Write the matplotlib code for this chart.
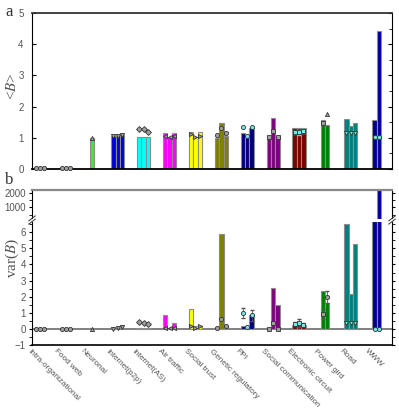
import matplotlib
matplotlib.use("Agg")
import matplotlib.pyplot as plt
import numpy as np
from matplotlib.lines import Line2D
from matplotlib.transforms import ScaledTranslation

plt.rcParams["mathtext.fontset"] = "stix"
plt.rcParams["font.family"] = ["Liberation Sans", "DejaVu Sans"]

categories = ["Intra-organizational", "Food web", "Neuronal", "Internet(p2p)",
              "Internet(AS)", "Air traffic", "Social trust", "Genetic regulatory",
              "PPI", "Social communication", "Electronic circuit", "Power gird",
              "Road", "WWW"]

# <B> bars and marker values
mean_bars = [[0, 0, 0], [0, 0, 0], [0.98], [1.07, 1.08, 1.10],
             [1.04, 1.03, 1.03], [1.15, 1.02, 1.15], [1.19, 1.01, 1.19],
             [1.0, 1.46, 1.05], [1.14, 1.07, 1.33], [1.05, 1.65, 1.07],
             [1.33, 1.31, 1.31], [1.58, 1.40], [1.59, 1.37, 1.47], [1.57, 4.41]]
mean_marks = [[0.02, 0.02, 0.02], [0.02, 0.02, 0.02], [1.0], [1.05, 1.07, 1.08],
              [1.29, 1.28, 1.20], [1.05, 1.01, 1.05], [1.11, 1.01, 1.06],
              [1.09, 1.32, 1.14], [1.34, 1.07, 1.35], [1.02, 1.21, 1.04],
              [1.18, 1.17, 1.22], [1.48, 1.77], [1.16, 1.16, 1.16], [1.03, 1.03]]
mean_err = {10: [0.05, 0.08, 0.06]}

# var(B) bars and marker values
var_bars = [[0, 0, 0], [0, 0, 0], [0], [0.02, 0.03, 0.05],
            [0.06, 0.06, 0.05], [0.88, 0.05, 0.35], [1.25, 0.15, 0.2],
            [0.1, 5.86, 0.2], [0.15, 0.1, 0.88], [0.02, 2.53, 1.5],
            [0.25, 0.3, 0.22], [2.36, 1.6], [6.54, 2.16, 5.3], [170, 2250]]
var_marks = [[0, 0, 0], [0, 0, 0], [0], [0.02, 0.05, 0.1],
             [0.41, 0.38, 0.3], [0.08, 0.05, 0.08], [0.18, 0.08, 0.15],
             [0.05, 0.6, 0.2], [1.0, 0.1, 0.85], [0.0, 0.37, 0.02],
             [0.3, 0.35, 0.25], [0.93, 1.98], [0.35, 0.35, 0.35], [0, 0]]
var_err = {8: [0.3, 0, 0.35], 10: [0.15, 0.25, 0.1], 11: [0.3, 0.35]}

colors = ["#808080", "#808080", "#33ee33", "#0000dd", "#00ffff", "#ff00ff",
          "#ffff00", "#808000", "#000080", "#800080", "#800000", "#008000",
          "#008080", "#000099"]
marker_shapes = ["o", "o", "^", "v", "D", "<", ">", "o", "o", "s", "s", "s", "v", "o"]
cyan_marks = {8, 10, 12, 13}

W = 0.17
GREY = "#555555"


def offsets(n):
    return (np.arange(n) - (n - 1) / 2) * W


def draw(ax, bars, marks, errs, top=False):
    for i, (b, m) in enumerate(zip(bars, marks)):
        xs = i + offsets(len(b))
        ax.bar(xs, b, width=W, color=colors[i], edgecolor="#8c8c8c",
               linewidth=0.8, zorder=2)
        fc = "#6fe8e8" if i in cyan_marks else "#a0a0a0"
        shapes = [marker_shapes[i]] * len(m)
        if i == 11:
            shapes = ["s", "^"] if top else ["s", "o"]
        for x, y, s in zip(xs, m, shapes):
            ax.plot(x, y, marker=s, ms=3.0, mfc=fc, mec="#333333", mew=0.6,
                    zorder=4, clip_on=False)
        if i in errs:
            ec = "#40e0e0" if (top and i == 10) else GREY
            ax.errorbar(xs, m, yerr=errs[i], fmt="none", ecolor=ec,
                        elinewidth=0.6, capsize=1.5, zorder=3)


fig = plt.figure(figsize=(3.99, 4.09), dpi=100)
L, R = 32 / 399, 392 / 399
XLIM = (-0.31, 13.59)

ax_a = fig.add_axes([L, 1 - 169 / 409, R - L, (169 - 13) / 409])
ax_a.set_ylim(0, 5)
ax_a.set_xlim(*XLIM)
draw(ax_a, mean_bars, mean_marks, mean_err, top=True)
ax_a.set_xticks([])
ax_a.set_yticks(range(6))
ax_a.set_yticks(np.arange(0, 5.01, 0.5), minor=True)
ax_a.tick_params(axis="y", which="both", direction="in", right=True,
                 labelsize=7, labelcolor=GREY, length=3, pad=6)
ax_a.tick_params(axis="y", which="minor", length=2, left=False)
for s in ["top", "bottom"]:
    ax_a.spines[s].set_linewidth(1.3)
ax_a.spines["top"].set_color("#333333")
fig.text(12 / 399, 1 - 86 / 409, "<$B$>", family="Liberation Serif", fontsize=11,
         color=GREY, rotation=90, ha="center", va="center")

# lower panel with broken axis
ax_hi = fig.add_axes([L, 1 - 220 / 409, R - L, 30 / 409])
ax_lo = fig.add_axes([L, 1 - 345 / 409, R - L, 125 / 409])
ax_hi.set_ylim(130, 2185)
ax_lo.set_ylim(-1, 6.76)
for ax in (ax_hi, ax_lo):
    ax.set_xlim(*XLIM)
    draw(ax, var_bars, var_marks, var_err)
    ax.tick_params(axis="y", which="both", direction="out", right=True,
                   labelsize=7, labelcolor=GREY, length=2.5, pad=2)
ax_hi.set_yticks([1000, 2000])
ax_hi.set_yticks([500, 1500], minor=True)
ax_hi.set_xticks([])
ax_hi.spines["bottom"].set_visible(False)
ax_hi.spines["top"].set_color("#888888")
ax_hi.spines["top"].set_linewidth(1.6)
ax_lo.spines["top"].set_visible(False)
ax_lo.set_yticks(range(-1, 7))
ax_lo.set_yticks(np.arange(-1, 6.6, 0.5), minor=True)
ax_lo.axhline(0, color="#808080", lw=1.4, zorder=1)
ax_lo.spines["bottom"].set_linewidth(1.2)

ax_lo.set_xticks(range(len(categories)))
ax_lo.set_xticklabels(categories)
ax_lo.tick_params(axis="x", length=0, labelsize=5.9, labelcolor=GREY, pad=2)
for lab in ax_lo.get_xticklabels():
    lab.set_rotation(-45)
    lab.set_ha("left")
    lab.set_va("top")
    lab.set_rotation_mode("anchor")
    lab.set_transform(lab.get_transform() + ScaledTranslation(-6 / 72, 0, fig.dpi_scale_trans))

fig.text(12 / 399, 1 - 258 / 409, "var($B$)", family="Liberation Serif", fontsize=11,
         color=GREY, rotation=90, ha="center", va="center")

# break gap and marks
yb = 1 - 220 / 409
fig.add_artist(Line2D([L + 0.003, R - 0.003], [yb, yb], color="white", lw=2.2, zorder=10))
for xb in (L, R):
    for dy in (-0.004, 0.004):
        fig.add_artist(Line2D([xb - 0.008, xb + 0.008], [yb + dy - 0.006, yb + dy + 0.006],
                              color="#333333", lw=0.7, zorder=11))

fig.text(5 / 399, 1 - 12 / 409, "a", family="Liberation Serif", fontsize=12, color="#333333", va="center")
fig.text(5 / 399, 1 - 180 / 409, "b", family="Liberation Serif", fontsize=12, color="#333333", va="center")

fig.savefig("out.png", dpi=100)
